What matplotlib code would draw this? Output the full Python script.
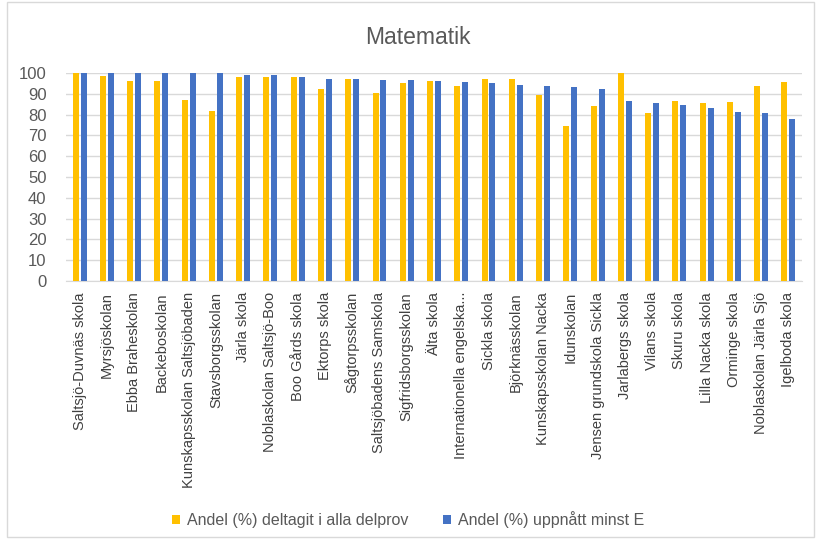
import numpy as np
import matplotlib.pyplot as plt
from matplotlib.patches import Rectangle

plt.rcParams['font.family'] = ['Liberation Sans', 'DejaVu Sans']

schools = ["Saltsjö-Duvnäs skola", "Myrsjöskolan", "Ebba Braheskolan", "Backeboskolan",
           "Kunskapsskolan Saltsjöbaden", "Stavsborgsskolan", "Järla skola",
           "Noblaskolan Saltsjö-Boo", "Boo Gårds skola", "Ektorps skola", "Sågtorpsskolan",
           "Saltsjöbadens Samskola", "Sigfridsborgsskolan", "Älta skola",
           "Internationella engelska...", "Sickla skola", "Björknässkolan",
           "Kunskapsskolan Nacka", "Idunskolan", "Jensen grundskola Sickla",
           "Jarlabergs skola", "Vilans skola", "Skuru skola", "Lilla Nacka skola",
           "Orminge skola", "Noblaskolan Järla Sjö", "Igelboda skola"]
deltagit = [100, 98.7, 96.1, 96.1, 87.0, 81.9, 98.2, 98.2, 98.2, 92.1, 96.9, 90.4, 95.2, 96.0,
            93.9, 97.3, 97.3, 89.2, 74.5, 83.9, 100, 80.7, 86.7, 85.4, 86.2, 93.6, 95.7]
uppnatt = [100, 100, 100, 100, 100, 100, 99.2, 99.2, 98.2, 96.9, 96.9, 96.5, 96.5, 96.0,
           95.7, 95.2, 94.4, 93.9, 93.1, 92.3, 86.7, 85.4, 84.4, 83.1, 81.4, 80.7, 78.0]
labels = ["Andel (%) deltagit i alla delprov", "Andel (%) uppnått minst E"]

fig = plt.figure(figsize=(8.16, 5.4), dpi=100)
ax = fig.add_axes([66/816, 1-281/540, (802-66)/816, (281-73)/540])

x = np.arange(len(schools))
w = 0.22
ax.bar(x - 0.145, deltagit, w, color='#FFC000', label=labels[0], zorder=3)
ax.bar(x + 0.145, uppnatt, w, color='#4472C4', label=labels[1], zorder=3)

ax.set_xlim(-0.5, len(schools) - 0.5)
ax.set_ylim(0, 100)
ax.set_yticks(range(0, 101, 10))
ax.yaxis.grid(True, color='#d9d9d9', linewidth=1, zorder=0)
ax.set_xticks(x)
ax.set_xticklabels(schools, rotation=90, fontsize=10.5, color='#404040')
ax.tick_params(axis='y', labelsize=12, colors='#595959', length=0, pad=14)
ax.tick_params(axis='x', length=0, pad=8)
for s in ['top', 'right', 'left']:
    ax.spines[s].set_visible(False)
ax.spines['bottom'].set_color('#d9d9d9')

fig.text(0.512, 1-38/540, "Matematik", ha='center', va='center', fontsize=16.5, color='#595959')
fig.legend(loc='center', bbox_to_anchor=(0.5, 1-520/540), ncol=2, frameon=False,
           fontsize=11.5, handlelength=0.5, handleheight=0.5, handletextpad=0.4,
           columnspacing=2.2, labelcolor='#595959')

fig.patches.append(Rectangle((0.008, 0.006), 0.989, 0.99, transform=fig.transFigure,
                             fill=False, edgecolor='#d9d9d9', linewidth=1))

fig.savefig("out.png", dpi=100)
